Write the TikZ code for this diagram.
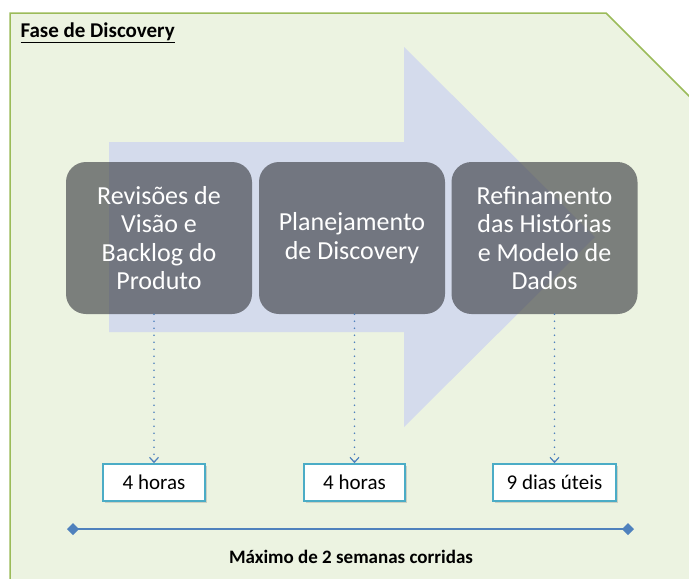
\documentclass[tikz,border=0pt]{standalone}
\usepackage{fontspec}
\setmainfont{Carlito}
\usetikzlibrary{arrows.meta,shadows}
\definecolor{fundo}{RGB}{236,243,225}
\definecolor{borda}{RGB}{155,187,89}
\definecolor{seta}{RGB}{212,219,236}
\definecolor{caixa}{RGB}{55,56,62}
\definecolor{azul}{RGB}{79,129,189}
\definecolor{ciano}{RGB}{75,172,198}

\begin{document}
\begin{tikzpicture}[x=1pt,y=-1pt,
        etapa/.style={rounded corners=20pt, fill=caixa, fill opacity=0.62, text opacity=1, text=white,
            minimum width=186pt, minimum height=152pt, inner sep=0pt, align=center,
            font=\fontsize{26}{28.5}\selectfont},
        prazo/.style={draw=ciano, line width=1.6pt, fill=white, minimum height=37pt, inner sep=0pt,
            font=\fontsize{21}{24}\selectfont,
            drop shadow={shadow xshift=1.5pt, shadow yshift=-1.5pt, opacity=0.3}},
        ligacao/.style={azul, line width=1.8pt, line cap=round, dash pattern=on 0pt off 7pt,
            -{Straight Barb[length=5pt,width=9pt,line width=1.2pt]}}]
        \useasboundingbox (0,0) rectangle (689,579);
        \clip (0,0) rectangle (689,579);

        % Fundo
        \draw[borda, fill=fundo, line width=1.5pt]
            (10,13) -- (606,13) -- (710,117) -- (710,600) -- (10,600) -- cycle;
        \node[anchor=west, font=\bfseries\fontsize{21}{24}\selectfont] (titulo) at (17,33) {\underline{Fase de Discovery}};

        % Seta
        \fill[seta] (109,142) -- (404,142) -- (404,47) -- (595,237) -- (404,427) -- (404,332) -- (109,332) -- cycle;

        \node[etapa] (e1) at (159,238) {Revisões de\\Visão e\\Backlog do\\Produto};
        \node[etapa] (e2) at (352,238) {Planejamento\\de Discovery};
        \node[etapa] (e3) at (544.5,238) {Refinamento\\das Histórias\\e Modelo de\\Dados};

        \node[prazo, minimum width=102pt] (p1) at (154,482.5) {4 horas};
        \node[prazo, minimum width=101pt] (p2) at (354.5,482.5) {4 horas};
        \node[prazo, minimum width=123pt] (p3) at (554.5,482.5) {9 dias úteis};

        \draw[ligacao] (p1.north |- e1.south) -- (p1.north);
        \draw[ligacao] (p2.north |- e2.south) -- (p2.north);
        \draw[ligacao] (p3.north |- e3.south) -- (p3.north);

        % Duracao
        \coordinate (ini) at (67,529);
        \coordinate (fim) at (634,529);
        \draw[azul, line width=2.8pt, {Diamond[length=12pt,width=12pt]}-{Diamond[length=12pt,width=12pt]}] (ini) -- (fim);
        \node[font=\bfseries\fontsize{19}{22}\selectfont] (total) at (351,557) {Máximo de 2 semanas corridas};
    \end{tikzpicture}
\end{document}
